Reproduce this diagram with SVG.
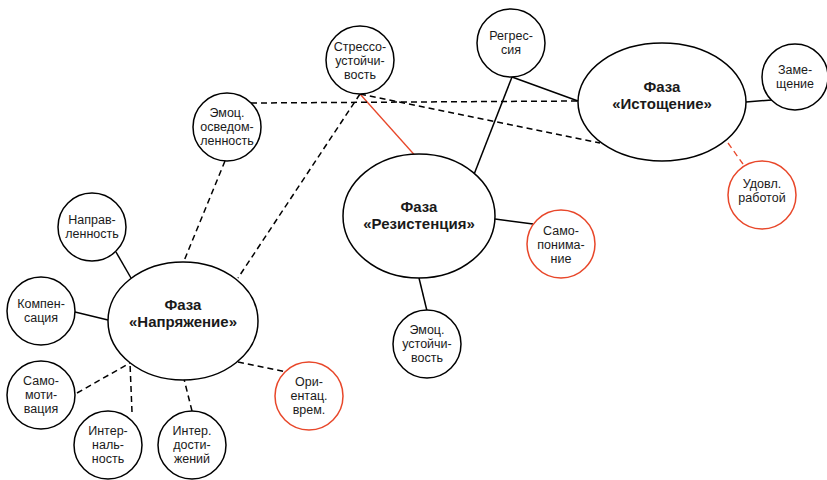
<svg xmlns="http://www.w3.org/2000/svg" width="827" height="480" viewBox="0 0 827 480">
<style>
.n{fill:#fff;stroke:#000;stroke-width:1.5}
.r{fill:#fff;stroke:#e8472a;stroke-width:1.5}
.t{font-family:"Liberation Sans",Arial,sans-serif;font-size:12.5px;fill:#1a1a1a;text-anchor:middle}
.b{font-family:"Liberation Sans",Arial,sans-serif;font-size:15px;font-weight:bold;fill:#1a1a1a;text-anchor:middle}
.s{stroke:#000;stroke-width:1.5;fill:none}
.d{stroke:#000;stroke-width:1.5;fill:none;stroke-dasharray:6 4}
.rs{stroke:#e8472a;stroke-width:1.3;fill:none}
.rd{stroke:#e8472a;stroke-width:1.3;fill:none;stroke-dasharray:6 4}
</style>
<rect width="827" height="480" fill="#fff"/>
<g id="connectors">
<line class="s" x1="116" y1="252" x2="131" y2="278"/>
<line class="s" x1="75" y1="312" x2="108" y2="320"/>
<line class="d" x1="77" y1="393" x2="130" y2="363"/>
<line class="d" x1="132" y1="412" x2="130" y2="363"/>
<line class="d" x1="192" y1="411" x2="184" y2="379"/>
<line class="d" x1="238" y1="362" x2="287" y2="372"/>
<line class="d" x1="225" y1="161" x2="184" y2="261"/>
<line class="d" x1="360" y1="94" x2="238" y2="278"/>
<line class="rs" x1="360" y1="94" x2="419" y2="160"/>
<line class="d" x1="251" y1="103" x2="578" y2="101"/>
<line class="d" x1="360" y1="94" x2="600" y2="143"/>
<line class="s" x1="512" y1="77" x2="473" y2="177"/>
<line class="s" x1="512" y1="77" x2="578" y2="101"/>
<line class="s" x1="746" y1="102" x2="772" y2="100"/>
<line class="rd" x1="728" y1="143" x2="743" y2="164"/>
<line class="s" x1="495" y1="219" x2="533" y2="224"/>
<line class="s" x1="419" y1="278" x2="427" y2="311"/>
</g>
<g id="napryazhenie"><ellipse class="n" cx="183" cy="321" rx="75" ry="59"/><text class="b" x="183" y="310">Фаза</text><text class="b" x="183" y="327">«Напряжение»</text></g>
<g id="rezistenciya"><ellipse class="n" cx="419" cy="216" rx="76" ry="62"/><text class="b" x="419" y="212">Фаза</text><text class="b" x="419" y="229">«Резистенция»</text></g>
<g id="istoshchenie"><ellipse class="n" cx="662" cy="102" rx="84" ry="59"/><text class="b" x="662" y="92">Фаза</text><text class="b" x="662" y="109">«Истощение»</text></g>
<g id="napravlennost"><circle class="n" cx="92" cy="227" r="34"/><text class="t" x="92" y="224">Направ-</text><text class="t" x="92" y="238">ленность</text></g>
<g id="kompensaciya"><circle class="n" cx="41" cy="311" r="34"/><text class="t" x="41" y="308">Компен-</text><text class="t" x="41" y="322">сация</text></g>
<g id="samomotivaciya"><circle class="n" cx="41" cy="395" r="34"/><text class="t" x="41" y="385">Само-</text><text class="t" x="41" y="399">моти-</text><text class="t" x="41" y="413">вация</text></g>
<g id="internalnost"><circle class="n" cx="108" cy="445" r="34"/><text class="t" x="108" y="435">Интер-</text><text class="t" x="108" y="449">наль-</text><text class="t" x="108" y="463">ность</text></g>
<g id="inter-dostizheniy"><circle class="n" cx="192" cy="445" r="34"/><text class="t" x="192" y="435">Интер.</text><text class="t" x="192" y="449">дости-</text><text class="t" x="192" y="463">жений</text></g>
<g id="orientac"><circle class="r" cx="309" cy="396" r="34"/><text class="t" x="309" y="386">Ори-</text><text class="t" x="309" y="400">ентац.</text><text class="t" x="309" y="414">врем.</text></g>
<g id="emoc-osvedomlennost"><circle class="n" cx="227" cy="127" r="34"/><text class="t" x="227" y="117">Эмоц.</text><text class="t" x="227" y="131">осведом-</text><text class="t" x="227" y="145">ленность</text></g>
<g id="stressoustoychivost"><circle class="n" cx="360" cy="60" r="34"/><text class="t" x="360" y="51">Стрессо-</text><text class="t" x="360" y="65">устойчи-</text><text class="t" x="360" y="79">вость</text></g>
<g id="regressiya"><circle class="n" cx="511" cy="43" r="34"/><text class="t" x="511" y="40">Регрес-</text><text class="t" x="511" y="54">сия</text></g>
<g id="zameshchenie"><circle class="n" cx="795" cy="77" r="33"/><text class="t" x="795" y="74">Заме-</text><text class="t" x="795" y="88">щение</text></g>
<g id="udovl-rabotoy"><circle class="r" cx="762" cy="195" r="34"/><text class="t" x="762" y="188">Удовл.</text><text class="t" x="762" y="202">работой</text></g>
<g id="samoponimanie"><circle class="r" cx="561" cy="244" r="34"/><text class="t" x="561" y="235">Само-</text><text class="t" x="561" y="249">понима-</text><text class="t" x="561" y="263">ние</text></g>
<g id="emoc-ustoychivost"><circle class="n" cx="427" cy="344" r="34"/><text class="t" x="427" y="334">Эмоц.</text><text class="t" x="427" y="348">устойчи-</text><text class="t" x="427" y="362">вость</text></g>
</svg>
